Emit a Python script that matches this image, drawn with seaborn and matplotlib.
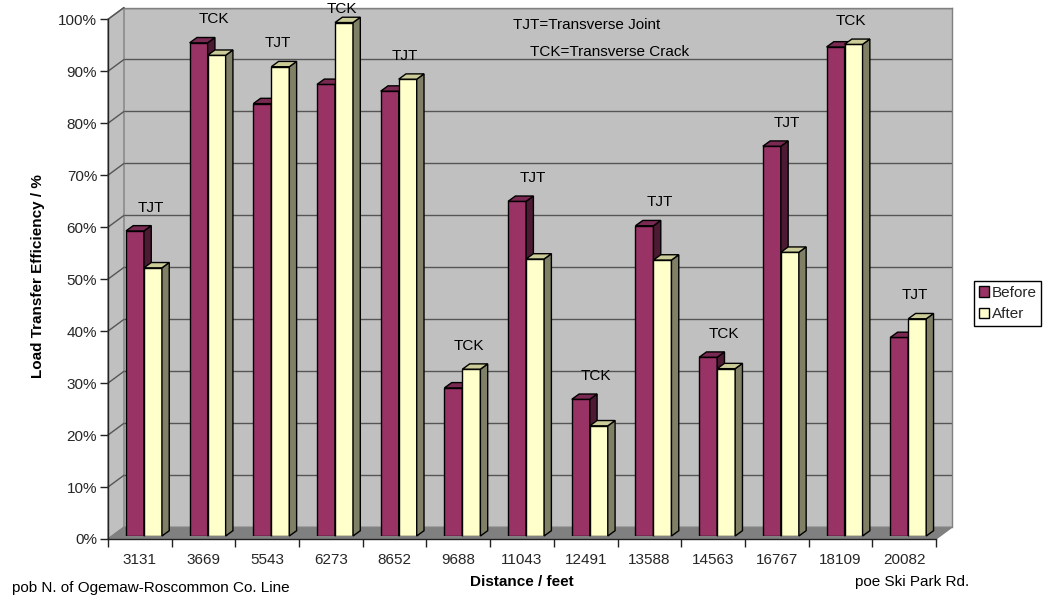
import numpy as np
import pandas as pd
import matplotlib
matplotlib.use("Agg")
import matplotlib.pyplot as plt
import seaborn as sns
from matplotlib.patches import Polygon, Patch

# ---- data -------------------------------------------------------------
distances = ["3131", "3669", "5543", "6273", "8652", "9688", "11043",
             "12491", "13588", "14563", "16767", "18109", "20082"]
before = [0.587, 0.949, 0.832, 0.869, 0.856, 0.285, 0.644,
          0.263, 0.597, 0.344, 0.750, 0.941, 0.382]
after = [0.516, 0.925, 0.903, 0.988, 0.879, 0.321, 0.533,
         0.212, 0.531, 0.322, 0.546, 0.946, 0.418]
joint_types = ["TJT", "TCK", "TJT", "TCK", "TJT", "TCK", "TJT",
               "TCK", "TJT", "TCK", "TJT", "TCK", "TJT"]
series_names = ["Before", "After"]
y_ticks = [0.0, 0.1, 0.2, 0.3, 0.4, 0.5, 0.6, 0.7, 0.8, 0.9, 1.0]
y_tick_labels = ["0%", "10%", "20%", "30%", "40%", "50%",
                 "60%", "70%", "80%", "90%", "100%"]

# ---- style ------------------------------------------------------------
sns.set_theme(style="white")
plt.rcParams["font.family"] = ["Liberation Sans", "DejaVu Sans"]
FS = 11

face = {"Before": "#993366", "After": "#ffffcc"}
side = {"Before": "#4d1a33", "After": "#808066"}
top = {"Before": "#7a2952", "After": "#cccc99"}
WALL = "#c0c0c0"
FLOOR = "#808080"
GRID = "#555555"
EDGE = "#808080"

W, H = 1043, 598
fig = plt.figure(figsize=(W / 100, H / 100), dpi=100)
fig.patch.set_facecolor("white")

PW, PH = 828.0, 519.7          # plot plane size in pixels
n = len(distances)
px_per_cat = PW / n


def rect(x_left, y_zero):
    return [x_left / W, 1 - y_zero / H, PW / W, PH / H]


# front plane (axes, ticks), back wall and the plane holding the bars
ax_back = fig.add_axes(rect(124, 527.2))
ax_front = fig.add_axes(rect(108, 539))
ax_bar = fig.add_axes(rect(112.1, 536))
ax_back.set_zorder(0)
ax_front.set_zorder(1)
ax_bar.set_zorder(2)

for a in (ax_back, ax_front, ax_bar):
    a.set_xlim(-0.5, n - 0.5)
    a.set_ylim(0, 1)

# ---- back wall --------------------------------------------------------
ax_back.set_facecolor(WALL)
ax_back.set_yticks(y_ticks[1:])
ax_back.set_xticks([])
ax_back.tick_params(left=False, labelleft=False, bottom=False, labelbottom=False)
ax_back.grid(axis="y", color=GRID, linewidth=1.0)
for s in ("left", "bottom"):
    ax_back.spines[s].set_visible(False)
for s in ("top", "right"):
    ax_back.spines[s].set_color(EDGE)
    ax_back.spines[s].set_linewidth(1.0)

# ---- side wall and floor (drawn on the front plane) -------------------
dx_u = 16.0 / px_per_cat
dy_u = 11.8 / PH
ax_front.set_facecolor("none")
left_wall = Polygon([(-0.5, 0), (-0.5, 1), (-0.5 + dx_u, 1 + dy_u), (-0.5 + dx_u, dy_u)],
                    closed=True, facecolor=WALL, edgecolor=EDGE, linewidth=1.0,
                    clip_on=False, zorder=0.5)
ax_front.add_patch(left_wall)
floor = Polygon([(-0.5, 0), (n - 0.5, 0), (n - 0.5 + dx_u, dy_u), (-0.5 + dx_u, dy_u)],
                closed=True, facecolor=FLOOR, edgecolor=EDGE, linewidth=1.0,
                clip_on=False, zorder=0.6)
ax_front.add_patch(floor)
for v in y_ticks[1:]:
    ax_front.plot([-0.5, -0.5 + dx_u], [v, v + dy_u], color=GRID, linewidth=1.0,
                  clip_on=False, zorder=0.7)

# front axes lines and ticks
for s in ("top", "right"):
    ax_front.spines[s].set_visible(False)
for s in ("left", "bottom"):
    ax_front.spines[s].set_color("#222222")
    ax_front.spines[s].set_linewidth(1.0)
    ax_front.spines[s].set_zorder(3)
ax_front.set_yticks(y_ticks)
ax_front.set_yticklabels(y_tick_labels, fontsize=FS)
ax_front.set_xticks(np.arange(-0.5, n, 1.0))
ax_front.set_xticklabels([])
ax_front.set_xticks(np.arange(n), minor=True)
ax_front.set_xticklabels(distances, minor=True, fontsize=FS)
ax_front.tick_params(axis="y", which="major", direction="out", length=5.8, width=1.0,
                     color="#222222", pad=2, left=True)
ax_front.tick_params(axis="x", which="major", direction="out", length=5.8, width=1.0,
                     color="#222222", bottom=True)
ax_front.tick_params(axis="x", which="minor", length=0, pad=10, bottom=True)

# ---- bars -------------------------------------------------------------
df = pd.DataFrame({
    "distance": distances * 2,
    "series": [series_names[0]] * n + [series_names[1]] * n,
    "value": before + after,
})
sns.barplot(data=df, x="distance", y="value", hue="series", order=distances,
            hue_order=series_names, palette=face, saturation=1, width=0.565,
            edgecolor="black", linewidth=1.0, errorbar=None, legend=False, ax=ax_bar)
ax_bar.set_xlim(-0.5, n - 0.5)
ax_bar.set_ylim(0, 1)
ax_bar.set_facecolor("none")
ax_bar.axis("off")

# depth faces of each column
ddx = 7.3 / px_per_cat
ddy = 5.3 / PH
for k, (name, cont) in enumerate(zip(series_names, ax_bar.containers)):
    for p in cont.patches:
        x0, w, h = p.get_x(), p.get_width(), p.get_height()
        p.set_zorder(2 + k)
        sd = Polygon([(x0 + w, 0), (x0 + w + ddx, ddy), (x0 + w + ddx, h + ddy), (x0 + w, h)],
                     closed=True, facecolor=side[name], edgecolor="black",
                     linewidth=1.0, zorder=2 + k, clip_on=False)
        tp = Polygon([(x0, h), (x0 + w, h), (x0 + w + ddx, h + ddy), (x0 + ddx, h + ddy)],
                     closed=True, facecolor=top[name], edgecolor="black",
                     linewidth=1.0, zorder=2 + k, clip_on=False)
        ax_bar.add_patch(sd)
        ax_bar.add_patch(tp)

# joint type labels above each pair
for i, (b, a, jt) in enumerate(zip(before, after, joint_types)):
    ax_bar.text(i + 0.1, min(max(b, a) + 0.045, 1.015), jt, ha="center", va="center",
                fontsize=FS, color="black", clip_on=False, zorder=5)

# ---- texts ------------------------------------------------------------
def ftext(x, y, s, **kw):
    fig.text(x / W, 1 - y / H, s, fontsize=FS, color="black", **kw)


ftext(587, 25, "TJT=Transverse Joint", ha="center", va="center")
ftext(610, 52, "TCK=Transverse Crack", ha="center", va="center")
ftext(522, 582, "Distance / feet", ha="center", va="center", fontweight="bold")
ftext(38, 276, "Load Transfer Efficiency / %", ha="center", va="center",
      fontweight="bold", rotation=90)
ftext(12, 588, "pob N. of Ogemaw-Roscommon Co. Line", ha="left", va="center")
ftext(912, 582, "poe Ski Park Rd.", ha="center", va="center")

# ---- legend -----------------------------------------------------------
handles = [Patch(facecolor=face[s], edgecolor="black", linewidth=1.0) for s in series_names]
leg = fig.legend(handles, series_names, loc="upper left",
                 bbox_to_anchor=(974 / W, 1 - 281 / H), frameon=True, fancybox=False,
                 framealpha=1, edgecolor="black", fontsize=FS, borderpad=0.3,
                 handlelength=0.7, handleheight=0.7, handletextpad=0.15,
                 labelspacing=0.5, borderaxespad=0)
leg.get_frame().set_linewidth(1.0)

fig.savefig("out.png", dpi=100, facecolor="white")
